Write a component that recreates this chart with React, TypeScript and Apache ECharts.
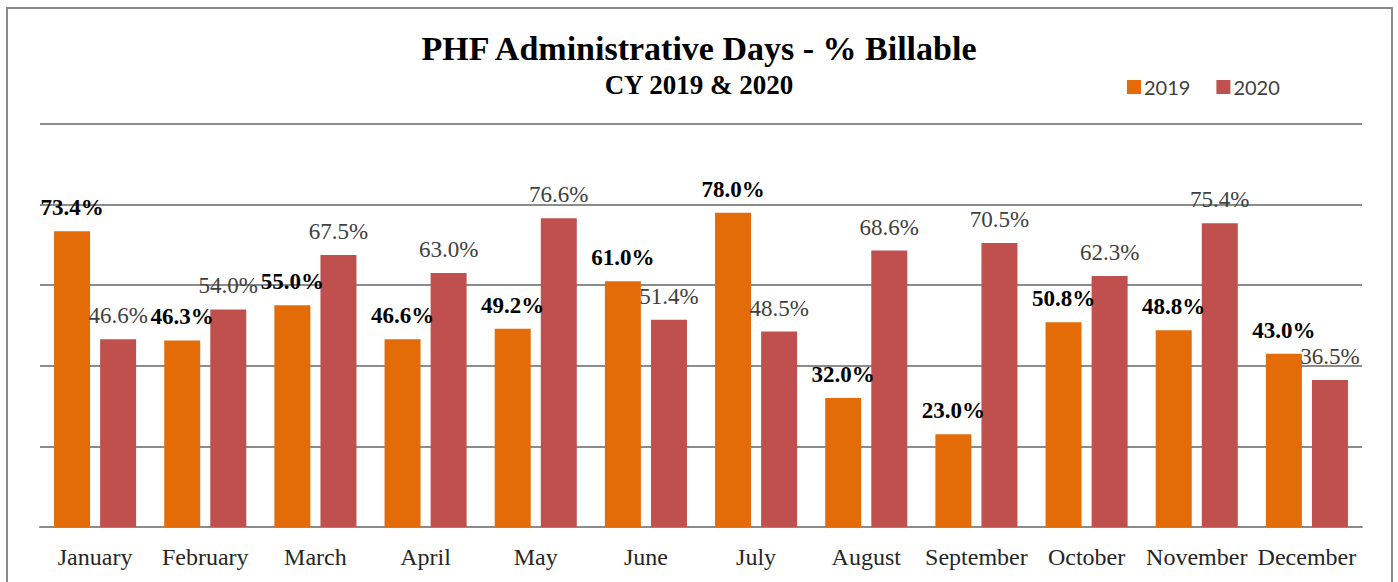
import React, { useEffect, useRef } from "react";
import * as echarts from "echarts";

const months = ["January", "February", "March", "April", "May", "June", "July", "August", "September", "October", "November", "December"];
const values2019 = [73.4, 46.3, 55.0, 46.6, 49.2, 61.0, 78.0, 32.0, 23.0, 50.8, 48.8, 43.0];
const values2020 = [46.6, 54.0, 67.5, 63.0, 76.6, 51.4, 48.5, 68.6, 70.5, 62.3, 75.4, 36.5];
const seriesNames = ["2019", "2020"];
const titleText = "PHF Administrative Days - % Billable";
const subtitleText = "CY 2019 & 2020";

const SERIF = "Liberation Serif";

export default function App() {
  const ref = useRef<HTMLDivElement>(null);
  useEffect(() => {
    if (!ref.current) return;
    const chart = echarts.init(ref.current, undefined, { renderer: "svg" });
    const fmt = (p: any) => Number(p.value).toFixed(1) + "%";
    chart.setOption({
      animation: false,
      backgroundColor: "#ffffff",
      textStyle: { fontFamily: SERIF },
      title: [
        {
          text: titleText,
          left: "center",
          top: 26,
          textStyle: { fontFamily: SERIF, fontSize: 34, fontWeight: "bold", color: "#000" },
        },
        {
          text: subtitleText,
          left: "center",
          top: 66,
          textStyle: { fontFamily: SERIF, fontSize: 27, fontWeight: "bold", color: "#000" },
        },
      ],
      legend: {
        data: seriesNames,
        left: 1122,
        top: 72,
        itemWidth: 14,
        itemHeight: 14,
        itemGap: 26,
        icon: "rect",
        textStyle: { fontFamily: "Lato", fontSize: 20, color: "#404040", padding: [0, 0, 0, -2] },
      },
      graphic: [
        {
          type: "rect",
          shape: { x: 7, y: 8, width: 1385, height: 620, r: 0 },
          style: { fill: "none", stroke: "#8a8a8a", lineWidth: 2 },
          silent: true,
        },
      ],
      grid: { left: 40, right: 36, top: 124, bottom: 55 },
      xAxis: {
        type: "category",
        data: months,
        axisTick: { show: false },
        axisLine: { lineStyle: { color: "#8c8c8c", width: 2 } },
        axisLabel: { fontFamily: SERIF, fontSize: 24, color: "#262626", margin: 18, interval: 0 },
      },
      yAxis: {
        type: "value",
        min: 0,
        max: 100,
        interval: 20,
        axisLabel: { show: false },
        axisLine: { show: false },
        axisTick: { show: false },
        splitLine: { lineStyle: { color: "#8c8c8c", width: 2 } },
      },
      series: [
        {
          name: seriesNames[0],
          type: "bar",
          data: values2019,
          barWidth: 36,
          barGap: "28%",
          itemStyle: { color: "#E36C09" },
          label: {
            show: true,
            position: "top",
            distance: 12,
            formatter: fmt,
            fontFamily: SERIF,
            fontSize: 23,
            fontWeight: "bold",
            color: "#000",
          },
        },
        {
          name: seriesNames[1],
          type: "bar",
          data: values2020,
          barWidth: 36,
          itemStyle: { color: "#C0504D" },
          label: {
            show: true,
            position: "top",
            distance: 12,
            formatter: fmt,
            fontFamily: SERIF,
            fontSize: 23,
            fontWeight: "normal",
            color: "#404040",
          },
        },
      ],
    });
    return () => chart.dispose();
  }, []);
  return (
    <div
      ref={ref}
      style={{ position: "fixed", left: 0, top: 0, width: 1398, height: 582, background: "#fff" }}
    />
  );
}
